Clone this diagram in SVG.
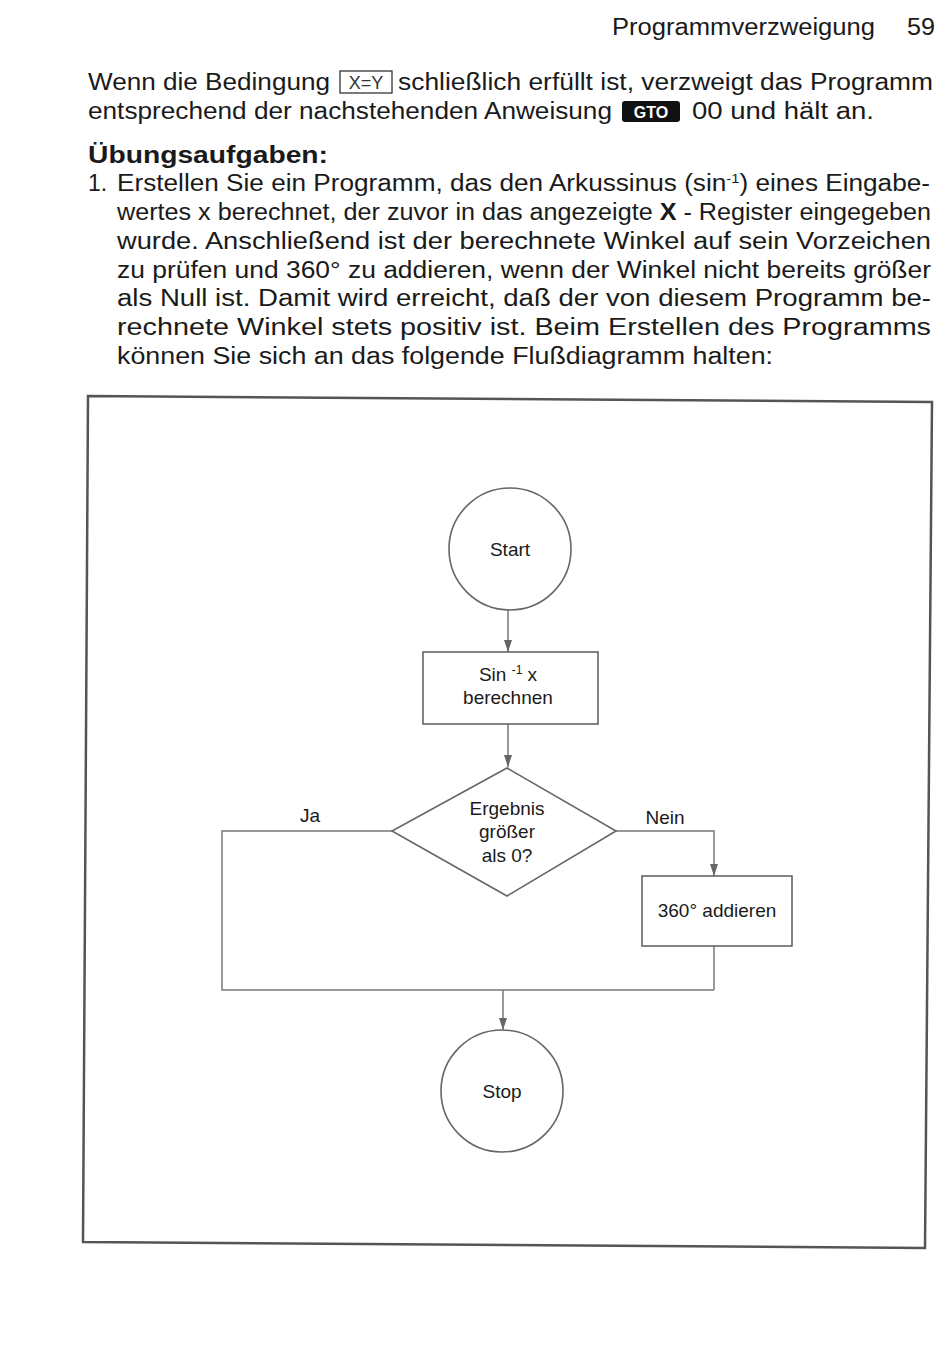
<svg xmlns="http://www.w3.org/2000/svg" width="950" height="1358" viewBox="0 0 950 1358">
<defs>
<style>
.t{font-family:"Liberation Sans",Arial,sans-serif;font-size:23px;fill:#1a1a1a}
.d{font-family:"Liberation Sans",Arial,sans-serif;font-size:19px;fill:#1a1a1a;text-anchor:middle}
.s{fill:#fff;stroke:#666;stroke-width:1.6}
.c{fill:none;stroke:#777;stroke-width:1.5}
</style>
<marker id="a" viewBox="0 0 12 8" refX="12" refY="4" markerWidth="12" markerHeight="8" orient="auto" markerUnits="userSpaceOnUse">
<path d="M0,0 L12,4 L0,8 z" fill="#666"/>
</marker>
</defs>
<rect width="950" height="1358" fill="#fff"/>

<g id="page-text">
<text class="t" x="612" y="35" textLength="263" lengthAdjust="spacingAndGlyphs">Programmverzweigung</text>
<text class="t" x="907" y="35" textLength="28" lengthAdjust="spacingAndGlyphs">59</text>

<text class="t" x="88" y="90" textLength="242" lengthAdjust="spacingAndGlyphs">Wenn die Bedingung</text>
<rect x="340" y="71" width="52" height="22" fill="none" stroke="#333" stroke-width="1.3"/>
<text x="366" y="89" font-family="Liberation Sans,Arial,sans-serif" font-size="18" fill="#333" text-anchor="middle">X=Y</text>
<text class="t" x="398" y="90" textLength="535" lengthAdjust="spacingAndGlyphs">schließlich erfüllt ist, verzweigt das Programm</text>

<text class="t" x="88" y="119" textLength="524" lengthAdjust="spacingAndGlyphs">entsprechend der nachstehenden Anweisung</text>
<rect x="622" y="101" width="58" height="21" rx="3" fill="#111"/>
<text x="651" y="118" font-family="Liberation Sans,Arial,sans-serif" font-size="16" font-weight="bold" fill="#fff" text-anchor="middle">GTO</text>
<text class="t" x="692" y="119" textLength="182" lengthAdjust="spacingAndGlyphs">00 und hält an.</text>

<text class="t" x="88" y="163" font-weight="bold" textLength="240" lengthAdjust="spacingAndGlyphs">Übungsaufgaben:</text>

<text class="t" x="88" y="191">1.</text>
<text class="t" x="117" y="191" textLength="813" lengthAdjust="spacingAndGlyphs">Erstellen Sie ein Programm, das den Arkussinus (sin<tspan font-size="13" dy="-8">-1</tspan><tspan dy="8">) eines Eingabe-</tspan></text>
<text class="t" x="117" y="220" textLength="814" lengthAdjust="spacingAndGlyphs">wertes x berechnet, der zuvor in das angezeigte <tspan font-weight="bold">X</tspan> - Register eingegeben</text>
<text class="t" x="117" y="249" textLength="814" lengthAdjust="spacingAndGlyphs">wurde. Anschließend ist der berechnete Winkel auf sein Vorzeichen</text>
<text class="t" x="117" y="278" textLength="814" lengthAdjust="spacingAndGlyphs">zu prüfen und 360° zu addieren, wenn der Winkel nicht bereits größer</text>
<text class="t" x="117" y="306" textLength="814" lengthAdjust="spacingAndGlyphs">als Null ist. Damit wird erreicht, daß der von diesem Programm be-</text>
<text class="t" x="117" y="335" textLength="814" lengthAdjust="spacingAndGlyphs">rechnete Winkel stets positiv ist. Beim Erstellen des Programms</text>
<text class="t" x="117" y="364" textLength="656" lengthAdjust="spacingAndGlyphs">können Sie sich an das folgende Flußdiagramm halten:</text>
</g>

<g id="frame">
<polygon points="88,396 932,402 925,1248 83,1242" fill="none" stroke="#555" stroke-width="2.5"/>
</g>

<g id="connectors">
<line class="c" x1="508" y1="610" x2="508" y2="652" marker-end="url(#a)"/>
<line class="c" x1="508" y1="724" x2="508" y2="767" marker-end="url(#a)"/>
<polyline class="c" points="392,831 222,831 222,990 714,990"/>
<polyline class="c" points="616,831 714,831 714,876" marker-end="url(#a)"/>
<line class="c" x1="714" y1="946" x2="714" y2="990"/>
<line class="c" x1="503" y1="990" x2="503" y2="1030" marker-end="url(#a)"/>
<text class="d" x="310" y="822">Ja</text>
<text class="d" x="665" y="824">Nein</text>
</g>

<g id="start">
<circle class="s" cx="510" cy="549" r="61"/>
<text class="d" x="510" y="556">Start</text>
</g>

<g id="compute">
<rect class="s" x="423" y="652" width="175" height="72"/>
<text class="d" x="508" y="681">Sin <tspan font-size="12" dy="-7">-1</tspan><tspan dy="7"> x</tspan></text>
<text class="d" x="508" y="704">berechnen</text>
</g>

<g id="decision">
<polygon class="s" points="507,768 616,831 507,896 392,831"/>
<text class="d" x="507" y="815">Ergebnis</text>
<text class="d" x="507" y="838">größer</text>
<text class="d" x="507" y="862">als 0?</text>
</g>

<g id="add360">
<rect class="s" x="642" y="876" width="150" height="70"/>
<text class="d" x="717" y="917">360° addieren</text>
</g>

<g id="stop">
<circle class="s" cx="502" cy="1091" r="61"/>
<text class="d" x="502" y="1098">Stop</text>
</g>
</svg>
